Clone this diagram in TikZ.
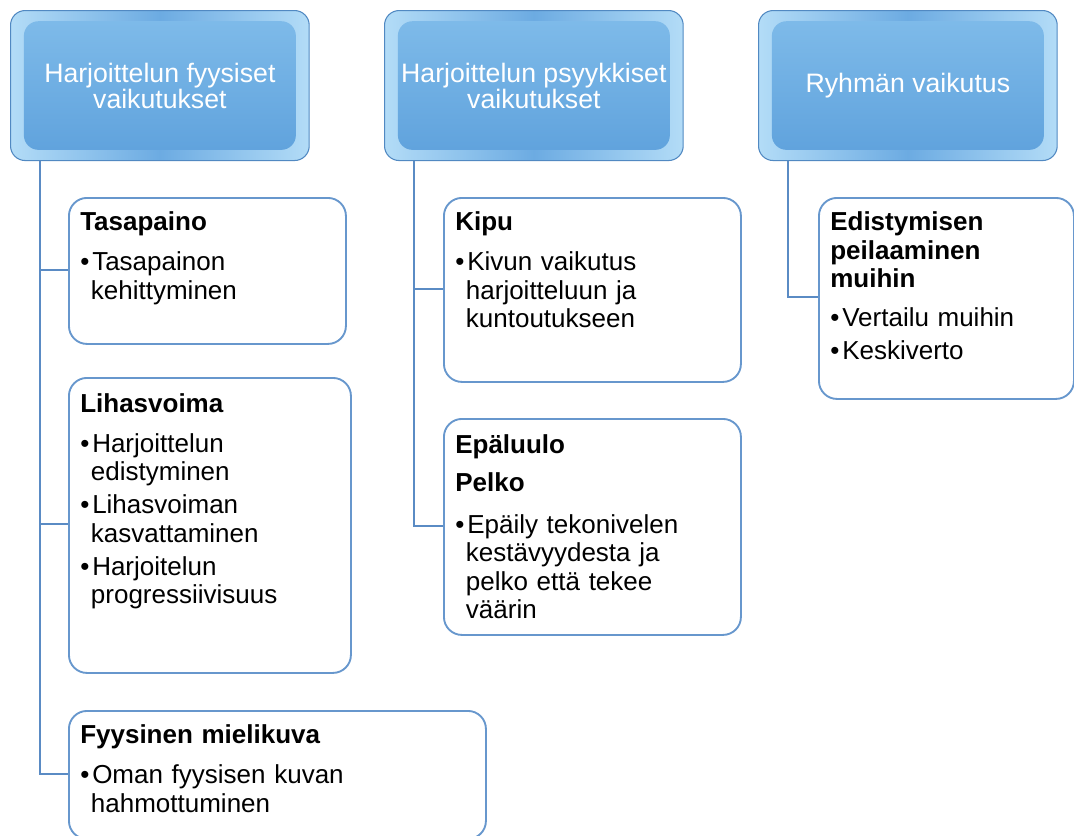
\documentclass[tikz,border=0pt]{standalone}
\usepackage{fontspec}
\setmainfont{Liberation Sans}
\usepackage{xcolor}
\usetikzlibrary{positioning}

\definecolor{headline}{HTML}{5189C2}
\definecolor{headside}{HTML}{B3DCF7}
\definecolor{headmid}{HTML}{6CABE2}
\definecolor{facetop}{HTML}{80BCEA}
\definecolor{facebot}{HTML}{5EA1DC}
\definecolor{leafline}{HTML}{6797CD}
\definecolor{connline}{HTML}{5A8BC4}

\newcommand{\ttl}[1]{{\bfseries #1\par}\vspace{5.2pt}}
\newcommand{\bul}[1]{\par\vspace{3.4pt}\hangindent=8pt\hangafter=1\noindent\makebox[9pt][l]{\textbullet}#1\par}

\begin{document}
\begin{tikzpicture}[
  x=0.75pt, y=-0.75pt,
  head/.style={draw=headline, line width=0.8pt, rounded corners=11pt, minimum width=224pt, minimum height=112.5pt, anchor=north west, align=center, text=white, font=\fontsize{20}{19.5}\selectfont,
    left color=headside, right color=headside, middle color=headmid,
    path picture={\shade[top color=facetop, bottom color=facebot] ([xshift=10pt,yshift=-8pt]path picture bounding box.north west) rectangle ([xshift=-10pt,yshift=8pt]path picture bounding box.south east);}},
  leaf/.style={draw=leafline, line width=1.4pt, fill=white, rounded corners=13.5pt, anchor=north west},
  leaftext/.style={anchor=north west, inner sep=0pt, text width=#1, align=left, font=\fontsize{19.5}{21.4}\selectfont},
  conn/.style={draw=connline, line width=1.6pt}
]
\useasboundingbox (0,0) rectangle (1074,835);

% top row
\node[head] (fys) at (10,10) {Harjoittelun fyysiset\\vaikutukset};
\node[head] (psy) at (384,10) {Harjoittelun psyykkiset\\vaikutukset};
\node[head] (ryh) at (758,10) {Ryhmän vaikutus};

% connectors
\draw[conn] ([xshift=22.5pt]fys.south west) |- (68,270);
\draw[conn] ([xshift=22.5pt]fys.south west) |- (68,524);
\draw[conn] ([xshift=22.5pt]fys.south west) |- (68,774);
\draw[conn] ([xshift=22.5pt]psy.south west) |- (443,289);
\draw[conn] ([xshift=22.5pt]psy.south west) |- (443,526);
\draw[conn] ([xshift=22.5pt]ryh.south west) |- (818,297);

% boxes
\node[leaf, minimum width=207.75pt, minimum height=109.5pt] (tasa) at (68,197) {};
\node[leaf, minimum width=211.5pt, minimum height=221.25pt] (lihas) at (68,377) {};
\node[leaf, minimum width=312.75pt, minimum height=96pt] (fyys) at (68,710) {};
\node[leaf, minimum width=222.75pt, minimum height=138pt] (kipu) at (443,197) {};
\node[leaf, minimum width=222.75pt, minimum height=162pt] (epa) at (443,418) {};
\node[leaf, minimum width=191.25pt, minimum height=150.75pt] (edis) at (818,197) {};

% texts
\node[leaftext=190pt] (tasa-t) at ([xshift=9pt,yshift=-11pt]tasa.north west)
  {\ttl{Tasapaino}\bul{Tasapainon\newline kehittyminen}};
\node[leaftext=195pt] (lihas-t) at ([xshift=9pt,yshift=-12pt]lihas.north west)
  {\ttl{Lihasvoima}\bul{Harjoittelun\newline edistyminen}\bul{Lihasvoiman\newline kasvattaminen}\bul{Harjoitelun\newline progressiivisuus}};
\node[leaftext=290pt] (fyys-t) at ([xshift=9pt,yshift=-11pt]fyys.north west)
  {\ttl{Fyysinen mielikuva}\bul{Oman fyysisen kuvan\newline hahmottuminen}};
\node[leaftext=205pt] (kipu-t) at ([xshift=9pt,yshift=-11pt]kipu.north west)
  {\ttl{Kipu}\bul{Kivun vaikutus\newline harjoitteluun ja\newline kuntoutukseen}};
\node[leaftext=205pt] (epa-t) at ([xshift=9pt,yshift=-12pt]epa.north west)
  {\ttl{Epäluulo}\vspace{2.5pt}\ttl{Pelko}\vspace{1pt}\bul{Epäily tekonivelen\newline kestävyydesta ja\newline pelko että tekee\newline väärin}};
\node[leaftext=175pt] (edis-t) at ([xshift=9pt,yshift=-11pt]edis.north west)
  {{\bfseries Edistymisen\newline peilaaminen\newline muihin\par}\vspace{4pt}\bul{Vertailu muihin}\bul{Keskiverto}};
\end{tikzpicture}
\end{document}
